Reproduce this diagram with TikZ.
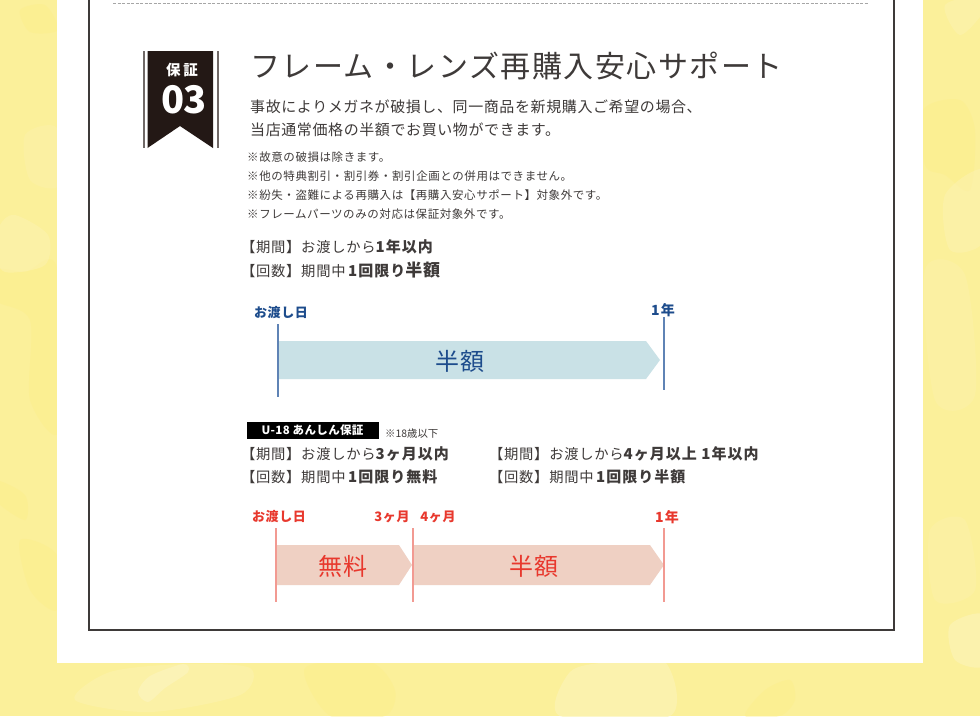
\documentclass[tikz,border=0pt]{standalone}
\usepackage{fontspec}
\setmainfont{Noto Sans CJK JP}
\usetikzlibrary{positioning}
\definecolor{paper}{HTML}{FBF09A}
\definecolor{ink}{HTML}{3E3A39}
\definecolor{ribbon}{HTML}{231815}
\definecolor{navy}{HTML}{1D4C8C}
\definecolor{navyline}{HTML}{5F83B5}
\definecolor{sky}{HTML}{C9E1E6}
\definecolor{scarlet}{HTML}{E8382D}
\definecolor{salmon}{HTML}{F29A92}
\definecolor{blush}{HTML}{EFD0C3}
\definecolor{washpale}{HTML}{FBF3B6}
\definecolor{washdeep}{HTML}{FDEE84}
\newcommand{\sized}[2]{\fontsize{#1}{#1}\selectfont\addfontfeature{LetterSpace=#2}}
\newcommand{\boldterm}[1]{{\bfseries\fontsize{15}{15}\selectfont\addfontfeature{LetterSpace=7}#1}}
\tikzset{
  txt/.style={anchor=west,inner sep=0pt,text=ink},
  heading/.style={txt,font=\sized{30}{5}},
  lead/.style={txt,font=\sized{15}{4}},
  note/.style={txt,font=\sized{11.5}{5}},
  term/.style={txt,font=\sized{14.3}{5}},
  stamp/.style={inner sep=0pt,font=\sized{13}{5}\bfseries},
  yearstamp/.style={inner sep=0pt,font=\sized{14}{10}\bfseries},
  bandtxt/.style={inner sep=0pt,font=\sized{24}{3}},
  tickline/.style={line width=1.2pt},
  lightwash/.style={fill=washpale,opacity=0.45},
  deepwash/.style={fill=washdeep,opacity=0.35},
}
\begin{document}
\begin{tikzpicture}[x=1pt,y=-1pt]
  \useasboundingbox (0,0) rectangle (980,716);
  \fill[paper] (0,0) rectangle (980,716);
  \fill[deepwash] plot[smooth cycle] coordinates {(-5,270) (25,272) (57,268) (60,430) (30,400) (30,320) (-5,300)};
  \fill[deepwash] plot[smooth cycle] coordinates {(-5,480) (25,495) (25,520) (-5,500)};
  \fill[deepwash] plot[smooth cycle] coordinates {(20,10) (45,5) (58,30) (30,32)};
  \fill[deepwash] plot[smooth cycle] coordinates {(20,540) (57,555) (57,610) (30,590)};
  \fill[lightwash] plot[smooth cycle] coordinates {(0,225) (15,215) (48,235) (45,265) (5,272) (-5,250)};
  \fill[lightwash,opacity=0.3] plot[smooth cycle] coordinates {(25,135) (57,128) (60,185) (30,180)};
  \fill[deepwash] plot[smooth cycle] coordinates {(923,110) (960,100) (975,130) (970,190) (945,175) (925,165)};
  \fill[lightwash] plot[smooth cycle] coordinates {(945,195) (985,170) (985,240) (950,250)};
  \fill[lightwash] plot[smooth cycle] coordinates {(945,5) (985,-5) (985,10) (960,35)};
  \fill[lightwash,opacity=0.3] plot[smooth cycle] coordinates {(925,270) (965,275) (975,395) (935,400)};
  \fill[lightwash,opacity=0.7] plot[smooth cycle] coordinates {(950,625) (985,615) (985,665) (955,660)};
  \fill[lightwash,opacity=0.3] plot[smooth cycle] coordinates {(930,530) (965,520) (975,590) (935,600)};
  \fill[lightwash] plot[smooth cycle] coordinates {(75,700) (110,672) (185,664) (250,668) (240,695) (150,712)};
  \fill[washpale] plot[smooth cycle] coordinates {(138,692) (150,676) (183,664) (188,672) (165,688) (148,702)};
  \fill[deepwash] plot[smooth cycle] coordinates {(305,668) (370,662) (395,690) (385,716) (330,716)};
  \fill[lightwash,opacity=0.7] plot[smooth cycle] coordinates {(570,672) (610,662) (665,662) (670,716) (560,716)};
  \fill[deepwash] plot[smooth cycle] coordinates {(765,690) (790,680) (795,700) (780,716) (745,716)};
  \fill[white] (57,0) rectangle (923,663);
  \draw[ink,line width=2pt] (89,-5) -- (89,630) -- (894,630) -- (894,-5);
  \draw[gray!70,line width=0.8pt,dash pattern=on 3pt off 1.5pt] (113,3) -- (868,3);

  \fill[ribbon] (147.5,51) -- (213,51) -- (213,148) -- (180,126) -- (147.5,148) -- cycle;
  \draw[ribbon!65,line width=2pt] (143.5,51) -- (143.5,148);
  \draw[ribbon!65,line width=2pt] (217.5,51) -- (217.5,148);
  \node[inner sep=0pt,text=white,font=\sized{14.5}{18}\bfseries] (warrantylabel) at (182,70) {保証};
  \node[inner sep=0pt,text=white,font=\sized{38}{-5}\bfseries] (warrantyno) at (184,100) {03};

  \node[heading] (title) at (250,66) {フレーム・レンズ再購入安心サポート};
  \node[lead] (leadone) at (250,107) {事故によりメガネが破損し、同一商品を新規購入ご希望の場合、};
  \node[lead] (leadtwo) at (250,130) {当店通常価格の半額でお買い物ができます。};
  \node[note] (noteone) at (247,157) {※故意の破損は除きます。};
  \node[note] (notetwo) at (247,176) {※他の特典割引・割引券・割引企画との併用はできません。};
  \node[note] (notethree) at (247,195) {※紛失・盗難による再購入は【再購入安心サポート】対象外です。};
  \node[note] (notefour) at (247,214) {※フレームパーツのみの対応は保証対象外です。};

  \node[term] (periodone) at (241,247) {【期間】お渡しから\boldterm{1年以内}};
  \node[term] (countone) at (241,270) {【回数】期間中\boldterm{\,1回限り}{\bfseries\fontsize{17}{17}\selectfont 半額}};

  \node[stamp,text=navy] (startone) at (281,313) {お渡し日};
  \node[yearstamp,text=navy] (yearone) at (663,310) {1年};
  \fill[sky] (278,341) -- (646,341) -- (660,360) -- (646,379) -- (278,379) -- cycle;
  \node[bandtxt,text=navy] (halfone) at (460,361) {半額};
  \coordinate (starttop) at (278,324);
  \coordinate (startbot) at (278,397);
  \coordinate (yeartop) at (664,317);
  \coordinate (yearbot) at (664,390);
  \draw[tickline,navyline] (starttop) -- (startbot);
  \draw[tickline,navyline] (yeartop) -- (yearbot);

  \fill[black] (247,421.5) rectangle (379,439);
  \node[inner sep=0pt,text=white,font=\sized{11.5}{3}\bfseries] (youth) at (312.5,430) {U-18 あんしん保証};
  \node[txt,font=\sized{10.4}{0}] (youthnote) at (385,434) {※18歳以下};

  \node[term] (periodtwo) at (241,454) {【期間】お渡しから\boldterm{3ヶ月以内}};
  \node[term] (counttwo) at (241,477) {【回数】期間中\boldterm{\,1回限り無料}};
  \node[term] (periodthree) at (489,454) {【期間】お渡しから\boldterm{4ヶ月以上 1年以内}};
  \node[term] (countthree) at (489,477) {【回数】期間中\boldterm{\,1回限り半額}};

  \node[stamp,text=scarlet] (starttwo) at (279,517) {お渡し日};
  \node[stamp,text=scarlet] (monththree) at (392,517) {3ヶ月};
  \node[stamp,text=scarlet] (monthfour) at (438,517) {4ヶ月};
  \node[yearstamp,text=scarlet] (yeartwo) at (667,517) {1年};
  \fill[blush] (277,545) -- (399,545) -- (412,565) -- (399,585) -- (277,585) -- cycle;
  \fill[blush] (414,545) -- (650,545) -- (664,565) -- (650,585) -- (414,585) -- cycle;
  \node[bandtxt,text=scarlet] (freeband) at (343,566) {無料};
  \node[bandtxt,text=scarlet] (halftwo) at (534,566) {半額};
  \foreach \tx/\tn in {276/a,413/b,664/c}{
    \coordinate (tick\tn top) at (\tx,528);
    \coordinate (tick\tn bot) at (\tx,602);
    \draw[tickline,salmon] (tick\tn top) -- (tick\tn bot);
  }
\end{tikzpicture}
\end{document}
